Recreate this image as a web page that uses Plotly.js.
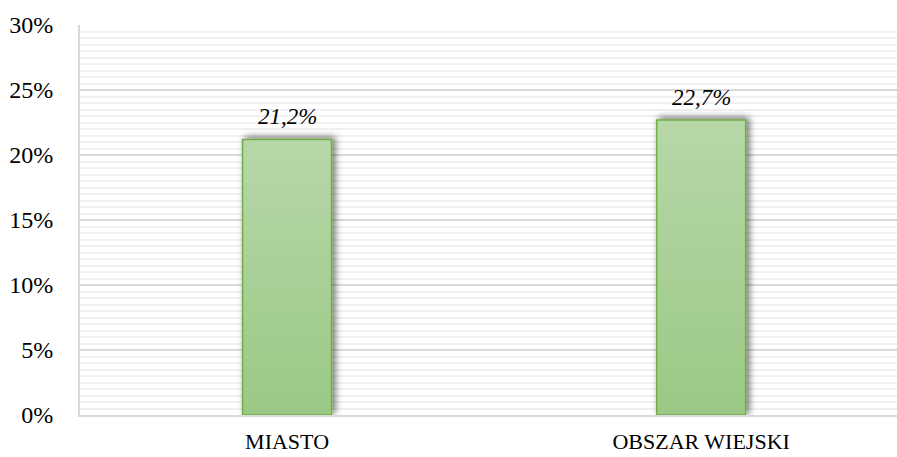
<!DOCTYPE html>
<html>
<head>
<meta charset="utf-8">
<script src="https://cdn.plot.ly/plotly-3.0.1.min.js"></script>
<style>
  html, body { margin: 0; padding: 0; background: #fff; overflow: hidden; }
  #chart { width: 897px; height: 457px; }
</style>
</head>
<body>
<div id="chart"></div>
<script>
// categories and shares (fractions)
var categories = ["MIASTO", "OBSZAR WIEJSKI"];
var shares = [0.212, 0.227];
var yTicks = [0, 0.05, 0.10, 0.15, 0.20, 0.25, 0.30];

var serif = "'Liberation Serif', 'DejaVu Serif', serif";

var trace = {
    x: categories,
    y: shares,
    type: "bar",
    width: 0.215,
    marker: {
        color: "#a9d08e",
        line: {color: "#70ad47", width: 1.5}
    },
    hoverinfo: "none"
};

// value labels sit a bit above each bar
var labels = categories.map(function (c, i) {
    return {
        x: c,
        y: shares[i],
        text: (shares[i] * 100).toFixed(1).replace(".", ",") + "%",
        showarrow: false,
        yanchor: "bottom",
        yshift: 8,
        font: {family: serif, size: 23, style: "italic", color: "#000"}
    };
});

var layout = {
    width: 897,
    height: 457,
    margin: {l: 80, r: 0, t: 25, b: 42},
    paper_bgcolor: "#fff",
    plot_bgcolor: "#fff",
    showlegend: false,
    font: {family: serif, size: 22, color: "#000"},
    annotations: labels,
    xaxis: {
        range: [-0.5, 1.473],
        showline: true,
        linecolor: "#d9d9d9",
        linewidth: 2,
        showgrid: false,
        ticks: "",
        ticklabelstandoff: 6,
        tickfont: {family: serif, size: 22}
    },
    yaxis: {
        range: [0, 0.3],
        tickvals: yTicks,
        tickformat: ".0%",
        showline: true,
        linecolor: "#d9d9d9",
        linewidth: 2,
        gridcolor: "#d9d9d9",
        gridwidth: 2,
        zeroline: false,
        ticks: "",
        ticklabelstandoff: 20,
        tickfont: {family: serif, size: 24},
        minor: {dtick: 0.005, showgrid: true, gridcolor: "#f0f0f0", gridwidth: 2}
    }
};

Plotly.newPlot("chart", [trace], layout, {staticPlot: true}).then(function (gd) {
    // gradient fill + soft shadow on the bars
    var svg = gd.querySelector(".main-svg");
    var defs = svg.querySelector("defs");
    var ns = "http://www.w3.org/2000/svg";
    var grad = document.createElementNS(ns, "linearGradient");
    grad.setAttribute("id", "barGrad");
    grad.setAttribute("x1", "0"); grad.setAttribute("y1", "0");
    grad.setAttribute("x2", "0"); grad.setAttribute("y2", "1");
    [["0", "#b7d7a8"], ["1", "#9bc985"]].forEach(function (s) {
        var st = document.createElementNS(ns, "stop");
        st.setAttribute("offset", s[0]);
        st.setAttribute("stop-color", s[1]);
        grad.appendChild(st);
    });
    defs.appendChild(grad);
    var filt = document.createElementNS(ns, "filter");
    filt.setAttribute("id", "barShadow");
    filt.setAttribute("x", "-30%"); filt.setAttribute("y", "-30%");
    filt.setAttribute("width", "160%"); filt.setAttribute("height", "160%");
    var ds = document.createElementNS(ns, "feDropShadow");
    ds.setAttribute("dx", "3"); ds.setAttribute("dy", "-2");
    ds.setAttribute("stdDeviation", "3.5");
    ds.setAttribute("flood-color", "#000");
    ds.setAttribute("flood-opacity", "0.55");
    filt.appendChild(ds);
    defs.appendChild(filt);
    gd.querySelectorAll(".trace.bars .point path").forEach(function (p) {
        p.style.fill = "url(#barGrad)";
        p.setAttribute("filter", "url(#barShadow)");
    });
});
</script>
</body>
</html>
